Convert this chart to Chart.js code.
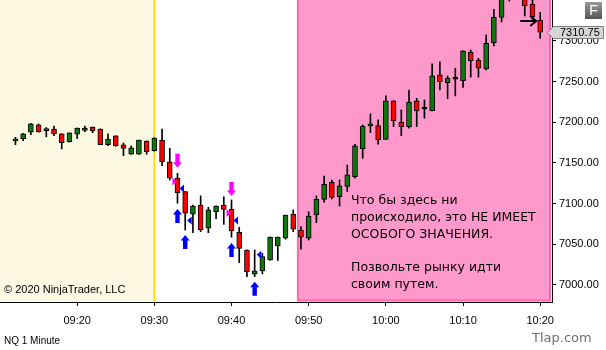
<!DOCTYPE html>
<html>
<head>
<meta charset="utf-8">
<script src="https://cdn.jsdelivr.net/npm/chart.js@4.4.0/dist/chart.umd.min.js"></script>
<style>
  html, body { margin: 0; padding: 0; background: #fff; }
  #wrap { width: 606px; height: 350px; }
</style>
</head>
<body>
<div id="wrap"><canvas id="chart" width="606" height="350"></canvas></div>
<script>
// NQ 1 minute bars, 09:12 - 10:20
const times = [
  '09:12','09:13','09:14','09:15','09:16','09:17','09:18','09:19','09:20','09:21',
  '09:22','09:23','09:24','09:25','09:26','09:27','09:28','09:29','09:30','09:31',
  '09:32','09:33','09:34','09:35','09:36','09:37','09:38','09:39','09:40','09:41',
  '09:42','09:43','09:44','09:45','09:46','09:47','09:48','09:49','09:50','09:51',
  '09:52','09:53','09:54','09:55','09:56','09:57','09:58','09:59','10:00','10:01',
  '10:02','10:03','10:04','10:05','10:06','10:07','10:08','10:09','10:10','10:11',
  '10:12','10:13','10:14','10:15','10:16','10:17','10:18','10:19','10:20'
];
const opens = [
  7177.25, 7180, 7187.75, 7196.75, 7189.75, 7191.75, 7185.75, 7176.25, 7185.25, 7190,
  7194, 7191.75, 7172.5, 7183.25, 7172.25, 7160.75, 7160.75, 7177, 7165, 7178.25,
  7151.5, 7131.25, 7114.75, 7087, 7098.25, 7069.75, 7090, 7098.25, 7093, 7064.75,
  7043, 7013.25, 7017.25, 7030.75, 7048, 7057.5, 7087, 7067.5, 7057.5, 7086,
  7105.25, 7126.25, 7108.5, 7121, 7133.25, 7167.5, 7195.5, 7196, 7179, 7226.25,
  7200, 7194.25, 7226.25, 7216, 7214.25, 7258.25, 7248.75, 7253, 7251.25, 7286,
  7276.5, 7265.5, 7298, 7329, 7352, 7362, 7354, 7345.5, 7325.75
];
const highs = [
  7181.5, 7186.5, 7198.75, 7198, 7193.5, 7195.5, 7186, 7187, 7193, 7195.5,
  7194.25, 7192, 7185.75, 7183.5, 7174.5, 7171, 7178.25, 7177.25, 7181, 7191.75,
  7168, 7137.25, 7115, 7098.25, 7109.5, 7095.5, 7097.25, 7108.5, 7104.5, 7071,
  7043.25, 7043, 7039, 7059, 7059, 7086, 7092.25, 7071.75, 7090, 7109.5,
  7134, 7129, 7129, 7147.5, 7173, 7196.75, 7210.25, 7203, 7232.5, 7226.5,
  7215.25, 7239.75, 7229.5, 7227.5, 7271.75, 7274.25, 7257, 7266.5, 7288, 7289,
  7278.75, 7307.5, 7339, 7356, 7366, 7372, 7356, 7351, 7335.25
];
const lows = [
  7172.5, 7177.5, 7184.75, 7187.75, 7182.25, 7183.5, 7167.25, 7175.5, 7180, 7188.5,
  7187.25, 7172.5, 7171.25, 7170.5, 7159, 7160.5, 7160.5, 7160.75, 7164.5, 7146.75,
  7129, 7100.5, 7067.5, 7064.25, 7065.5, 7064.25, 7081.5, 7074.5, 7058.75, 7027.5,
  7010.25, 7010.25, 7013.5, 7030, 7030, 7056.25, 7065.5, 7044, 7055.25, 7076.5,
  7101.75, 7105.75, 7097, 7114.75, 7131.25, 7155.75, 7187.25, 7173, 7179, 7194.75,
  7183.5, 7192.75, 7194.75, 7205, 7214, 7239.75, 7229, 7232.5, 7243, 7255.5,
  7255.5, 7264.25, 7294, 7323.5, 7349, 7353, 7330.75, 7326.75, 7303.25
];
const closes = [
  7179.5, 7185.75, 7198, 7188.5, 7192.25, 7185.75, 7175, 7187, 7193, 7193,
  7189.75, 7172.5, 7179.5, 7171.25, 7168, 7168.5, 7178.25, 7164, 7180.5, 7151.5,
  7131.25, 7113.5, 7088.25, 7097, 7067.5, 7092.25, 7097, 7093, 7066.5, 7045,
  7016.25, 7017.25, 7034.75, 7058.75, 7058.75, 7086, 7068.5, 7058.75, 7084.75, 7105.25,
  7123.75, 7107.75, 7121.75, 7135.25, 7171, 7195.5, 7198, 7178.25, 7226.25, 7201.75,
  7194.75, 7225, 7214, 7216, 7257, 7250, 7254.25, 7253, 7287.75, 7275.75,
  7266.5, 7297.25, 7329, 7352, 7362, 7358, 7343, 7330, 7310.75
];

// signals
const sellArrowTimes = ['09:33', '09:40'];
const sellArrowPrices = [7144, 7109.5];
const buyArrowTimes = ['09:33', '09:34', '09:40', '09:43'];
const buyArrowPrices = [7093.5, 7061.5, 7051.5, 7003.75];
const sellMarkTimes = ['09:33', '09:40'];
const sellMarkPrices = [7127.25, 7088.5];
const buyMarkTimes = ['09:33', '09:34', '09:40', '09:43'];
const buyMarkPrices = [7118.5, 7079.25, 7079.25, 7037];

const xTicks = ['09:20', '09:30', '09:40', '09:50', '10:00', '10:10', '10:20'];
const yTicks = [7000, 7050, 7100, 7150, 7200, 7250, 7300];

const sessionOpen = '09:30';
const noteZoneStart = 588.6; // minutes after midnight
const noteLines = [
  'Что бы здесь ни',
  'происходило, это НЕ ИМЕЕТ',
  'ОСОБОГО ЗНАЧЕНИЯ.',
  '',
  'Позвольте рынку идти',
  'своим путем.'
];

const toMin = s => { const [h, m] = s.split(':').map(Number); return h * 60 + m; };
const fmt = v => {
  const h = Math.floor(v / 60), m = Math.round(v % 60);
  return String(h).padStart(2, '0') + ':' + String(m).padStart(2, '0');
};

const xs = times.map(toMin);
const bodies = xs.map((t, i) => ({ x: t, y: [opens[i], closes[i]] }));
const wicks = xs.map((t, i) => ({ x: t, y: [lows[i], highs[i]] }));
const bodyColors = closes.map((c, i) => c > opens[i] ? '#0b7a0b' : c < opens[i] ? '#ff0000' : '#000');

function blockArrow(ctx, x, y, dir, color) {
  // dir 1 = pointing up (tip at y), -1 = pointing down
  ctx.fillStyle = color;
  ctx.beginPath();
  ctx.moveTo(x, y);
  ctx.lineTo(x - 4.5, y + 5.5 * dir);
  ctx.lineTo(x - 2.2, y + 5.5 * dir);
  ctx.lineTo(x - 2.2, y + 14 * dir);
  ctx.lineTo(x + 2.2, y + 14 * dir);
  ctx.lineTo(x + 2.2, y + 5.5 * dir);
  ctx.lineTo(x + 4.5, y + 5.5 * dir);
  ctx.closePath();
  ctx.fill();
}

function sideTriangle(ctx, tipX, y, dir, color) {
  // dir 1 = pointing right, -1 = pointing left
  ctx.fillStyle = color;
  ctx.beginPath();
  ctx.moveTo(tipX, y);
  ctx.lineTo(tipX - 4.5 * dir, y - 4);
  ctx.lineTo(tipX - 4.5 * dir, y + 4);
  ctx.closePath();
  ctx.fill();
}

const decor = {
  id: 'decor',
  beforeDraw(chart) {
    const { ctx, chartArea: a, scales: { x } } = chart;
    ctx.save();
    ctx.fillStyle = '#fff';
    ctx.fillRect(0, 0, chart.width, chart.height);
    const xOpen = x.getPixelForValue(toMin(sessionOpen));
    ctx.fillStyle = '#fdf8e1';
    ctx.fillRect(a.left, a.top, xOpen - a.left, a.bottom - a.top);
    const xz = x.getPixelForValue(noteZoneStart);
    ctx.fillStyle = '#ff99cc';
    ctx.fillRect(xz, a.top, a.right - 2 - xz, a.bottom - 1 - a.top);
    ctx.strokeStyle = '#ff66b0';
    ctx.lineWidth = 2;
    ctx.beginPath();
    ctx.moveTo(xz, a.top);
    ctx.lineTo(xz, a.bottom - 1.5);
    ctx.lineTo(a.right - 2, a.bottom - 1.5);
    ctx.lineTo(a.right - 2, a.top);
    ctx.stroke();
    ctx.strokeStyle = '#ffe000';
    ctx.lineWidth = 2;
    ctx.beginPath();
    ctx.moveTo(xOpen, a.top);
    ctx.lineTo(xOpen, a.bottom);
    ctx.stroke();
    ctx.restore();
  },
  afterDatasetsDraw(chart) {
    const { ctx, chartArea: a, scales: { x, y } } = chart;
    ctx.save();
    sellArrowTimes.forEach((t, i) => blockArrow(ctx, x.getPixelForValue(toMin(t)), y.getPixelForValue(sellArrowPrices[i]), -1, '#ff00ff'));
    buyArrowTimes.forEach((t, i) => blockArrow(ctx, x.getPixelForValue(toMin(t)), y.getPixelForValue(buyArrowPrices[i]), 1, '#0000ff'));
    sellMarkTimes.forEach((t, i) => sideTriangle(ctx, x.getPixelForValue(toMin(t)) - 0.5, y.getPixelForValue(sellMarkPrices[i]), 1, '#ff00ff'));
    buyMarkTimes.forEach((t, i) => sideTriangle(ctx, x.getPixelForValue(toMin(t)) + 2, y.getPixelForValue(buyMarkPrices[i]), -1, '#0000ff'));

    // arrow pointing at the last bar
    const lx = x.getPixelForValue(xs[xs.length - 1]) - 4;
    const ly = y.getPixelForValue(7324.5);
    ctx.strokeStyle = '#000';
    ctx.lineWidth = 2;
    ctx.beginPath();
    ctx.moveTo(lx - 16, ly);
    ctx.lineTo(lx, ly);
    ctx.moveTo(lx - 6, ly - 5);
    ctx.lineTo(lx, ly);
    ctx.lineTo(lx - 6, ly + 5);
    ctx.stroke();

    ctx.fillStyle = '#000';
    ctx.textBaseline = 'middle';
    ctx.textAlign = 'left';
    ctx.font = '11px "Liberation Sans", Arial, sans-serif';
    ctx.fillText('© 2020 NinjaTrader, LLC', a.left + 4, a.bottom - 12);

    ctx.font = '12.5px "DejaVu Sans", sans-serif';
    noteLines.forEach((line, i) => ctx.fillText(line, 351, 201 + i * 16.8));
    ctx.restore();
  },
  afterDraw(chart) {
    const { ctx, scales: { y } } = chart;
    ctx.save();
    // last price marker
    const py = Math.round(y.getPixelForValue(closes[closes.length - 1])) + 0.5;
    ctx.fillStyle = '#d6d6d6';
    ctx.strokeStyle = '#808080';
    ctx.lineWidth = 1;
    ctx.beginPath();
    ctx.moveTo(547.5, py);
    ctx.lineTo(553.5, py - 6);
    ctx.lineTo(603.5, py - 6);
    ctx.lineTo(603.5, py + 6);
    ctx.lineTo(553.5, py + 6);
    ctx.closePath();
    ctx.fill();
    ctx.stroke();
    ctx.fillStyle = '#000';
    ctx.font = '11px "Liberation Sans", Arial, sans-serif';
    ctx.textBaseline = 'middle';
    ctx.textAlign = 'left';
    ctx.fillText(closes[closes.length - 1].toFixed(2), 560, py);

    // F button
    const g = ctx.createLinearGradient(0, 2, 0, 19);
    g.addColorStop(0, '#9a9a9a');
    g.addColorStop(1, '#555');
    ctx.fillStyle = g;
    ctx.fillRect(585, 2, 17, 17);
    ctx.fillStyle = '#fff';
    ctx.font = '14px "Liberation Sans", Arial, sans-serif';
    ctx.textAlign = 'center';
    ctx.fillText('F', 593.5, 11);

    ctx.textAlign = 'left';
    ctx.fillStyle = '#000';
    ctx.font = '10px "Liberation Sans", Arial, sans-serif';
    ctx.fillText('NQ 1 Minute', 4, 341);
    ctx.fillStyle = '#707070';
    ctx.font = '13px "DejaVu Sans", sans-serif';
    ctx.fillText('Tlap.com', 532, 339);
    ctx.restore();
  }
};

Chart.defaults.font.family = '"Liberation Sans", Arial, sans-serif';
Chart.defaults.font.size = 11;
Chart.defaults.color = '#000';

new Chart(document.getElementById('chart'), {
  type: 'bar',
  data: {
    datasets: [
      {
        data: bodies,
        backgroundColor: bodyColors,
        borderColor: '#000',
        borderWidth: 1,
        borderSkipped: false,
        barThickness: 5,
        minBarLength: 2,
        grouped: false,
        clip: 0,
        order: 1
      },
      {
        data: wicks,
        backgroundColor: '#000',
        borderWidth: 0,
        barThickness: 1,
        grouped: false,
        clip: 0,
        order: 2
      }
    ]
  },
  options: {
    responsive: false,
    animation: false,
    devicePixelRatio: 1,
    layout: { padding: 0 },
    plugins: { legend: { display: false }, tooltip: { enabled: false } },
    scales: {
      x: {
        type: 'linear',
        min: 550,
        max: 621.53,
        offset: false,
        grid: { offset: false, drawOnChartArea: false, drawTicks: true, tickLength: 4, color: '#000' },
        border: { display: true, color: '#000', width: 1 },
        ticks: { padding: 8, maxRotation: 0, autoSkip: false, callback: v => fmt(v) },
        afterBuildTicks: s => { s.ticks = xTicks.map(t => ({ value: toMin(t) })); },
        afterFit: s => { s.height = 48; s.paddingLeft = 0; s.paddingRight = 0; }
      },
      y: {
        type: 'linear',
        position: 'right',
        min: 6979,
        max: 7350.4,
        grid: { drawOnChartArea: false, drawTicks: true, tickLength: 4, color: '#000' },
        border: { display: true, color: '#000', width: 1 },
        ticks: { padding: 3, callback: v => v.toFixed(2) },
        afterBuildTicks: s => { s.ticks = yTicks.map(v => ({ value: v })); },
        afterFit: s => { s.width = 54; s.paddingTop = 0; s.paddingBottom = 0; }
      }
    }
  },
  plugins: [decor]
});
</script>
</body>
</html>
